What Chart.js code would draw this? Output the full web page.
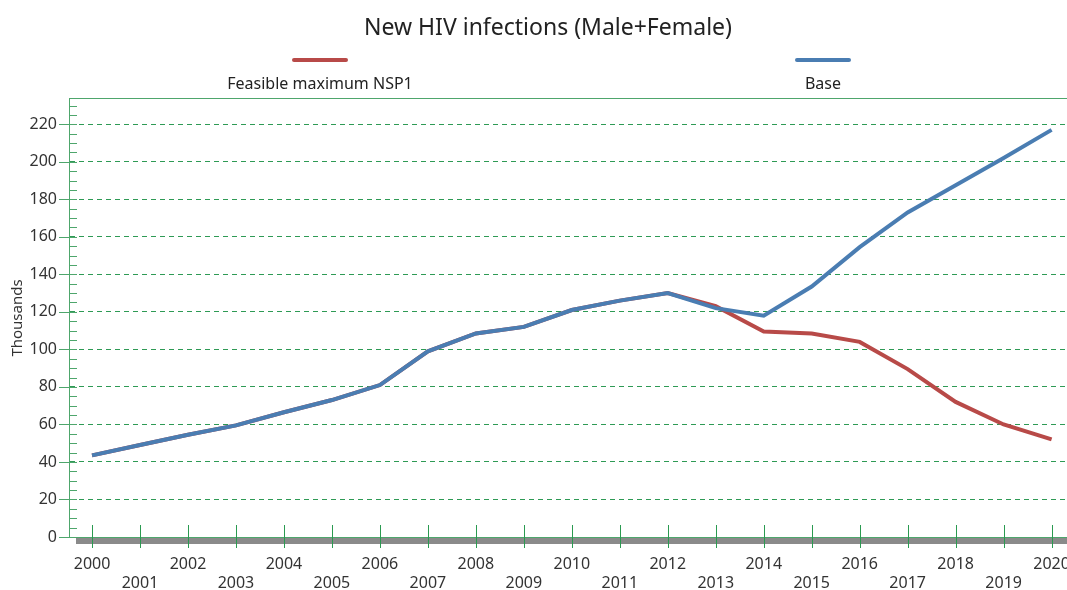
<!DOCTYPE html>
<html>
<head>
<meta charset="utf-8">
<script src="https://cdn.jsdelivr.net/npm/chart.js@4"></script>
<style>
  body { margin: 0; background: #fff; }
  #wrap { width: 1067px; height: 590px; }
</style>
</head>
<body>
<div id="wrap"><canvas id="myDiagram"></canvas></div>
<script>
const years = [2000, 2001, 2002, 2003, 2004, 2005, 2006, 2007, 2008, 2009, 2010,
               2011, 2012, 2013, 2014, 2015, 2016, 2017, 2018, 2019, 2020];
const baseValues = [43.5, 49, 54.5, 59.5, 66.5, 73, 81, 99, 108.5, 112, 121,
                    126, 130, 122, 118, 133.5, 154.5, 173, 187.5, 202, 217];
const nspValues = [43.5, 49, 54.5, 59.5, 66.5, 73, 81, 99, 108.5, 112, 121,
                   126, 130, 123, 109.5, 108.5, 104, 89.5, 72, 60, 52];
const yLabels = [0, 20, 40, 60, 80, 100, 120, 140, 160, 180, 200, 220];

const GREEN = '#4ea66c';
const FONT = '"Noto Sans", "Open Sans", sans-serif';

const extras = {
    id: 'extras',
    beforeDraw(chart) {
        const c = chart.ctx, a = chart.chartArea;
        c.save();
        c.fillStyle = '#8a8a8a';
        c.fillRect(a.left + 7, a.bottom, chart.width - a.left - 7, 7);
        c.restore();
    },
    afterDraw(chart) {
        const c = chart.ctx, a = chart.chartArea;
        const x = chart.scales.x, y = chart.scales.y;
        c.save();
        // top border
        c.strokeStyle = GREEN;
        c.lineWidth = 1;
        c.beginPath();
        c.moveTo(a.left, a.top + 0.5);
        c.lineTo(chart.width, a.top + 0.5);
        c.stroke();
        // y ticks, major every 20 and minor every 5
        for (let v = 0; v <= y.max; v += 5) {
            const py = Math.round(y.getPixelForValue(v)) + 0.5;
            c.beginPath();
            if (v % 20 === 0) {
                c.moveTo(a.left - 10, py);
                c.lineTo(a.left + 8, py);
            } else {
                c.moveTo(a.left, py);
                c.lineTo(a.left + 8, py);
            }
            c.stroke();
        }
        // x ticks
        c.strokeStyle = '#2a9a50';
        years.forEach(yr => {
            const px = Math.round(x.getPixelForValue(yr)) + 0.5;
            c.beginPath();
            c.moveTo(px, a.bottom - 12);
            c.lineTo(px, a.bottom + 11);
            c.stroke();
        });
        // title
        c.fillStyle = '#222';
        c.textAlign = 'center';
        c.textBaseline = 'middle';
        c.font = '23px ' + FONT;
        c.fillText('New HIV infections (Male+Female)', 548, 28);
        // y axis title
        c.save();
        c.translate(18, 318);
        c.rotate(-Math.PI / 2);
        c.font = '15px ' + FONT;
        c.fillStyle = '#333';
        c.fillText('Thousands', 0, 0);
        c.restore();
        // legend: line sample above the label
        const centers = [320, 823];
        chart.data.datasets.forEach((ds, i) => {
            c.strokeStyle = ds.borderColor;
            c.lineWidth = 4;
            c.lineCap = 'round';
            c.beginPath();
            c.moveTo(centers[i] - 26, 60);
            c.lineTo(centers[i] + 26, 60);
            c.stroke();
            c.fillStyle = '#222';
            c.font = '16px ' + FONT;
            c.fillText(ds.label, centers[i], 84);
        });
        c.restore();
    }
};

const ctx = document.getElementById('myDiagram').getContext('2d');
const myChart = new Chart(ctx, {
    type: 'line',
    data: {
        datasets: [{
            label: 'Feasible maximum NSP1',
            data: years.map((yr, i) => ({ x: yr, y: nspValues[i] })),
            borderColor: 'rgb(184, 74, 72)',
            borderWidth: 4,
            pointRadius: 0,
            tension: 0,
            order: 2
        }, {
            label: 'Base',
            data: years.map((yr, i) => ({ x: yr, y: baseValues[i] })),
            borderColor: 'rgb(74, 125, 178)',
            borderWidth: 4,
            pointRadius: 0,
            tension: 0,
            order: 1
        }]
    },
    options: {
        responsive: true,
        maintainAspectRatio: false,
        animation: false,
        layout: {
            padding: { top: 98, right: 1, left: 0, bottom: 0 }
        },
        plugins: {
            legend: { display: false },
            title: { display: false },
            tooltip: { enabled: false }
        },
        scales: {
            x: {
                type: 'linear',
                min: 1999.52,
                max: 2020.3,
                afterBuildTicks: s => { s.ticks = years.map(v => ({ value: v })); },
                afterFit: s => { s.height = 53; s.paddingLeft = 0; s.paddingRight = 0; },
                grid: { display: false, drawTicks: false },
                border: { color: GREEN, width: 1 },
                ticks: {
                    autoSkip: false,
                    maxRotation: 0,
                    padding: 18,
                    color: '#333',
                    font: { family: FONT, size: 16, lineHeight: '19px' },
                    callback: v => (v % 2 === 0 ? [String(v), ''] : ['', String(v)])
                }
            },
            y: {
                min: 0,
                max: 234,
                afterBuildTicks: s => { s.ticks = yLabels.map(v => ({ value: v })); },
                afterFit: s => { s.width = 69; s.paddingTop = 0; s.paddingBottom = 0; },
                grid: { color: '#2e9a55', drawTicks: false, lineWidth: 1 },
                border: { color: GREEN, width: 1, dash: [5, 4] },
                ticks: {
                    padding: 12,
                    color: '#333',
                    font: { family: FONT, size: 16 }
                }
            }
        }
    },
    plugins: [extras]
});
</script>
</body>
</html>
